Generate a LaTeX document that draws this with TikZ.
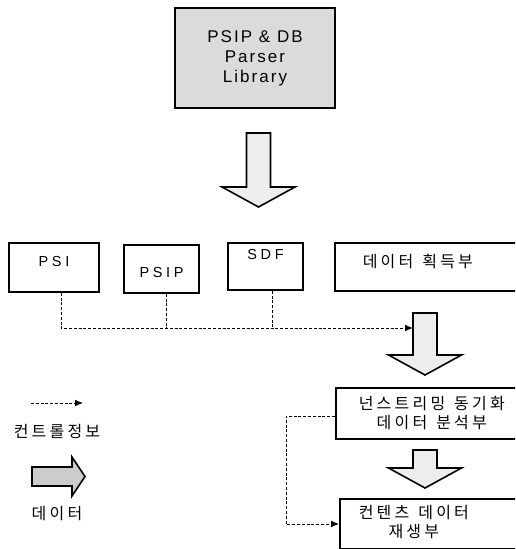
\documentclass[tikz,border=0pt]{standalone}
\usepackage{fontspec}
\setmainfont{Liberation Sans}
\newfontfamily\libfont{Liberation Sans}[LetterSpace=12]
\newfontfamily\tblfont{Liberation Sans}[LetterSpace=25]
\newfontfamily\korfont{Noto Sans CJK KR}[LetterSpace=20]
\newcommand{\ksp}{\hspace{9pt}}
\usepackage{tikz}
\usetikzlibrary{arrows.meta,positioning,calc}
\tikzset{
  libbox/.style={draw,line width=2.4pt,fill=black!14,align=center,
    minimum width=160,minimum height=100,font=\libfont\fontsize{17}{20}\selectfont},
  tablebox/.style={draw,line width=1.6pt,align=center,font=\tblfont\fontsize{14.5}{18}\selectfont},
  unitbox/.style={draw,line width=1.6pt,anchor=west,font=\korfont\fontsize{16}{19}\selectfont},
  kortext/.style={font=\korfont\fontsize{16}{18}\selectfont},
  datablock/.style={draw,line width=1.6pt,fill=black!7,line join=miter},
  ctrlline/.style={line width=1pt,dash pattern=on 3pt off 1.8pt},
  ctrlarrow/.style={ctrlline,-{Latex[length=8pt,width=7pt]}}
}
% 데이터 흐름 화살표: 가운데 x, 위, 머리 시작, 끝
\newcommand{\databar}[4]{%
  \draw[datablock] (#1-12,#2) -- (#1+12,#2) -- (#1+12,#3) -- (#1+36.5,#3)
    -- (#1,#4) -- (#1-36.5,#3) -- (#1-12,#3) -- cycle;}
\begin{document}
\begin{tikzpicture}[x=1pt,y=-1pt]
  \useasboundingbox (0,0) rectangle (515,549);
  \clip (0,0) rectangle (515,549);
  % 파서 라이브러리
  \node[libbox] (lib) at (255,58) {PSIP \& DB\\Parser\\Library};
  \databar{258.5}{133}{187}{207}
  % 테이블
  \node[tablebox,minimum width=90,minimum height=49,text depth=12pt] (psi) at (54,267.5) {PSI};
  \node[tablebox,minimum width=75,minimum height=48,text height=18pt] (psip) at (161.5,269) {PSIP};
  \node[tablebox,minimum width=75,minimum height=47,text depth=24pt] (sdf) at (265.5,266.5) {SDF};
  \node[unitbox,minimum height=48,inner xsep=28,text width=140,align=left,text depth=12pt] (acq) at (334,267) {데이터\ksp 획득부};
  % 처리 단계
  \databar{425}{313}{355}{375}
  \coordinate (busend) at (413,328);
  \node[unitbox,minimum height=51,inner xsep=6,text width=180,align=center] (sync) at (335,413.5) {넌스트리밍\ksp 동기화\\데이터\ksp 분석부};
  \databar{425}{450}{468}{488}
  \node[unitbox,minimum height=50,inner xsep=19,text width=160,align=left] (play) at (339,524)
    {\begin{tabular}{@{}c@{}}컨텐츠\ksp 데이터\\재생부\end{tabular}};
  % 컨트롤 정보
  \draw[ctrlarrow] ([xshift=7]psi.south) |- (busend);
  \draw[ctrlline] ([xshift=4.5]psip.south) -- ([xshift=4.5]psip.south |- busend);
  \draw[ctrlline] ([xshift=6.5]sdf.south) -- ([xshift=6.5]sdf.south |- busend);
  \draw[ctrlarrow] ([yshift=-2.5]sync.west) -- ++(-49,0) |- (play.west);
  % 범례
  \coordinate (ctrlA) at (31,403);
  \coordinate (ctrlB) at (83,403);
  \draw[ctrlarrow] (ctrlA) -- (ctrlB);
  \node[kortext] (ctrllabel) at (57,431) {컨트롤정보};
  \draw[datablock,fill=black!20] (32,467) -- (72,467) -- (72,457) -- (85,476.5)
    -- (72,496) -- (72,486) -- (32,486) -- cycle;
  \node[kortext] (datalabel) at (57,514) {데이터};
\end{tikzpicture}
\end{document}
